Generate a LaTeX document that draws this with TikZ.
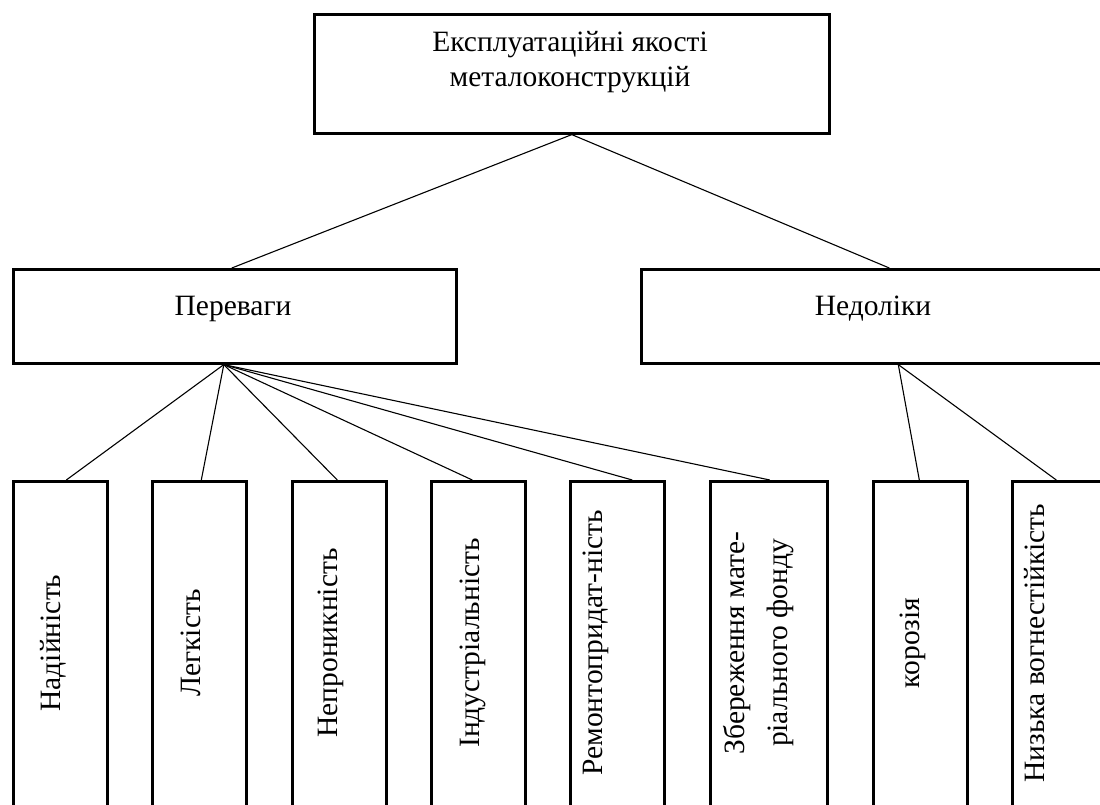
\documentclass[tikz,border=0pt]{standalone}
\usepackage{fontspec}
\setmainfont{Liberation Serif}
\usetikzlibrary{calc}
\begin{document}
\begin{tikzpicture}[x=1pt,y=-1pt,
  box/.style={draw, line width=2.6pt, inner sep=0pt, anchor=north west},
  lowbox/.style={box, minimum width=94pt, minimum height=346pt},
  conn/.style={line width=1.1pt},
  txt/.style={font=\fontsize{29.5}{35}\selectfont, inner sep=0pt},
  vtxt/.style={txt, rotate=90, anchor=base}]
\useasboundingbox (0,0) rectangle (1100,804);
\fill[white] (0,0) rectangle (1100,804);
\clip (0,0) rectangle (1100,804);
% level 0
\node[box, minimum width=515pt, minimum height=119pt] (top) at (313,13) {};
\node[txt, align=center] (toptxt) at (570,62.5) {Експлуатаційні якості\\металоконструкцій};
% level 1
\node[box, minimum width=443pt, minimum height=94pt] (pv) at (12,268) {};
\node[txt, anchor=base] (pvtxt) at (233,315) {Переваги};
\node[box, minimum width=468pt, minimum height=94pt] (nd) at (640,268) {};
\node[txt, anchor=base] (ndtxt) at (873,315) {Недоліки};
% level 2
\node[lowbox] (b1) at (12,480) {};
\node[lowbox] (b2) at (151,480) {};
\node[lowbox] (b3) at (291,480) {};
\node[lowbox] (b4) at (430,480) {};
\node[lowbox] (b5) at (569,480) {};
\node[lowbox, minimum width=117pt] (b6) at (709,480) {};
\node[lowbox] (b7) at (872,480) {};
\node[lowbox] (b8) at (1011,480) {};
\node[vtxt] (t1) at (60,643) {Надійність};
\node[vtxt] (t2) at (200,643) {Легкість};
\node[vtxt] (t3) at (337,643) {Непроникність};
\node[vtxt] (t4) at (479,643) {Індустріальність};
\node[vtxt] (t5) at (602,643) {Ремонтопридат-ність};
\node[txt, rotate=90, align=center, font=\fontsize{29.5}{43}\selectfont] (t6) at (759,643) {Збереження мате-\\ріального фонду};
\node[vtxt] (t7) at (919,643) {корозія};
\node[vtxt] (t8) at (1044,643) {Низька вогнестійкість};
% connectors
\coordinate (pvs) at ($(pv.south)+(-11,0)$);
\coordinate (nds) at ($(nd.south)+(23,0)$);
\draw[conn] (top.south) -- ($(pv.north)+(-3,0)$);
\draw[conn] (top.south) -- ($(nd.north)+(14,0)$);
\draw[conn] (pvs) -- ($(b1.north)+(6,0)$);
\draw[conn] (pvs) -- ($(b2.north)+(2,0)$);
\draw[conn] (pvs) -- ($(b3.north)+(-2,0)$);
\draw[conn] (pvs) -- ($(b4.north)+(-6,0)$);
\draw[conn] (pvs) -- ($(b5.north)+(15,0)$);
\draw[conn] (pvs) -- ($(b6.north)+(1,0)$);
\draw[conn] (nds) -- ($(b7.north)+(-1,0)$);
\draw[conn] (nds) -- ($(b8.north)+(-3,0)$);
\end{tikzpicture}
\end{document}
